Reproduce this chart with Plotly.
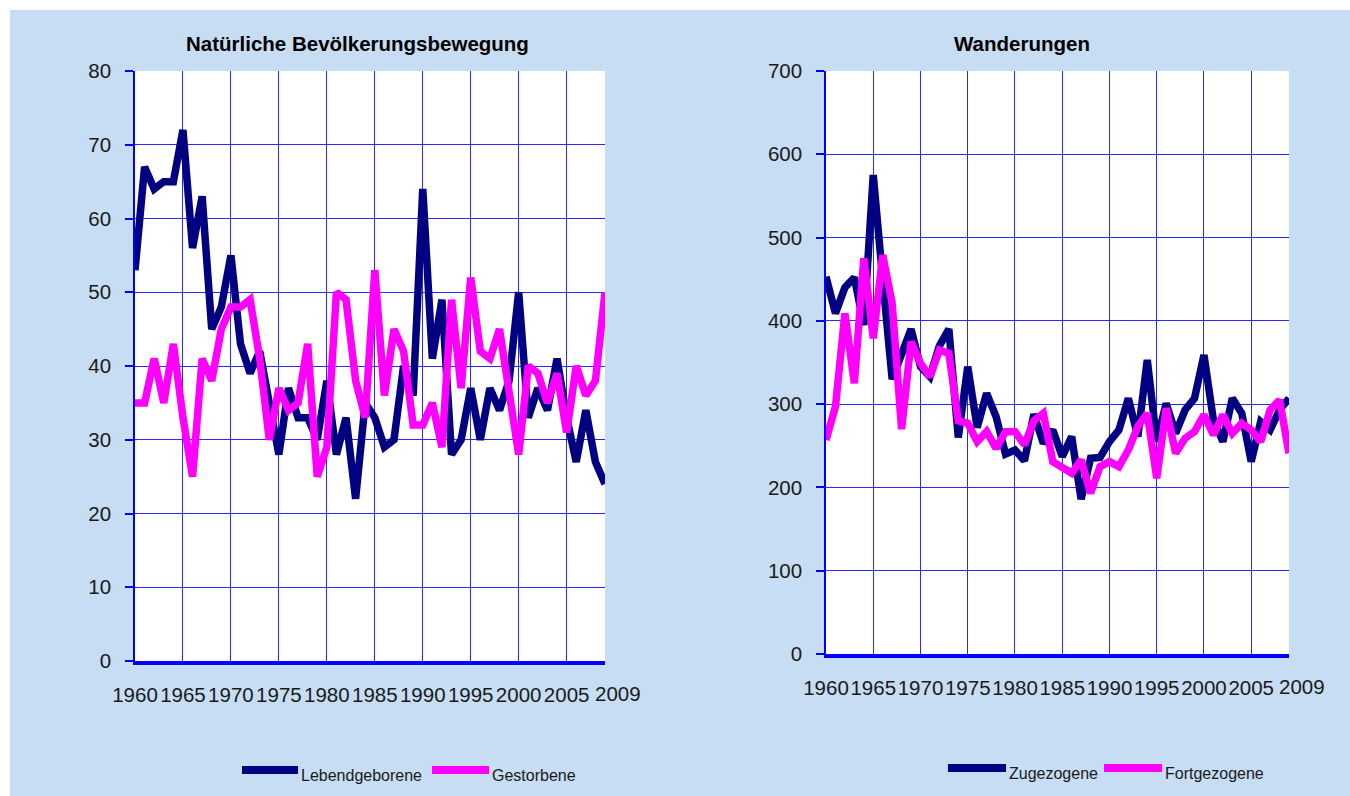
import plotly.graph_objects as go

# ---------------- data ----------------
years = list(range(1960, 2010))
tick_years = list(range(1960, 2010, 5))

lebendgeborene = [53, 67, 64, 65, 65, 72, 56, 63, 45, 48,
                  55, 43, 39, 42, 35, 28, 37, 33, 33, 30,
                  38, 28, 33, 22, 35, 33, 29, 30, 40, 36,
                  64, 41, 49, 28, 30, 37, 30, 37, 34, 38,
                  50, 33, 37, 34, 41, 33, 27, 34, 27, 24]
gestorbene = [35, 35, 41, 35, 43, 33, 25, 41, 38, 45,
              48, 48, 49, 41, 30, 37, 34, 35, 43, 25,
              29, 50, 49, 38, 33, 53, 36, 45, 42, 32,
              32, 35, 29, 49, 37, 52, 42, 41, 45, 36,
              28, 40, 39, 35, 39, 31, 40, 36, 38, 50]
zugezogene = [453, 409, 440, 452, 395, 575, 450, 330, 360, 390,
              345, 333, 370, 390, 260, 345, 272, 313, 285, 240,
              245, 232, 288, 253, 269, 237, 261, 186, 235, 236,
              255, 269, 307, 261, 353, 255, 301, 265, 293, 307,
              359, 281, 255, 307, 289, 231, 279, 269, 293, 307]
fortgezogene = [257, 297, 409, 325, 475, 379, 479, 421, 270, 375,
                349, 333, 365, 361, 280, 277, 255, 267, 247, 267,
                267, 251, 280, 289, 231, 225, 217, 233, 193, 225,
                231, 225, 245, 273, 289, 211, 295, 241, 259, 267,
                287, 263, 287, 265, 277, 269, 255, 293, 305, 241]

left_ticks = [0, 10, 20, 30, 40, 50, 60, 70, 80]
right_ticks = [0, 100, 200, 300, 400, 500, 600, 700]

titles = ["Natürliche Bevölkerungsbewegung", "Wanderungen"]
names_left = ["Lebendgeborene", "Gestorbene"]
names_right = ["Zugezogene", "Fortgezogene"]

NAVY = "#000080"
MAGENTA = "#FF00FF"
BLUE = "#0000FF"
GRID = "rgb(40,40,255)"
BG = "rgb(198,221,243)"
FONT = "Liberation Sans, Arial, sans-serif"
TXT = "#1a1a1a"
LW = 7.5

W, H = 1340, 786  # figure size; page offset 10px left/top


def px(x):
    return (x - 10) / W


def py(y):
    return 1 - (y - 10) / H


fig = go.Figure()
fig.add_trace(go.Scatter(x=years, y=lebendgeborene, mode="lines", name=names_left[0],
                         line=dict(color=NAVY, width=LW), xaxis="x", yaxis="y", showlegend=False))
fig.add_trace(go.Scatter(x=years, y=gestorbene, mode="lines", name=names_left[1],
                         line=dict(color=MAGENTA, width=LW), xaxis="x", yaxis="y", showlegend=False))
fig.add_trace(go.Scatter(x=years, y=zugezogene, mode="lines", name=names_right[0],
                         line=dict(color=NAVY, width=LW), xaxis="x2", yaxis="y2", showlegend=False))
fig.add_trace(go.Scatter(x=years, y=fortgezogene, mode="lines", name=names_right[1],
                         line=dict(color=MAGENTA, width=LW), xaxis="x2", yaxis="y2", showlegend=False))

xcommon = dict(range=[years[0], years[-1]], tickmode="array", tickvals=tick_years,
               showgrid=True, gridcolor=GRID, gridwidth=1, showline=True, linecolor=BLUE,
               linewidth=4, ticks="", zeroline=False, tickangle=0, automargin=False,
               tickfont=dict(family=FONT, size=20.5, color=TXT), ticklabelstandoff=12)


def yaxis_cfg(ticks, rng):
    return dict(range=rng, tickmode="array", tickvals=ticks, showgrid=False,
                minor=dict(tickmode="array", tickvals=ticks[1:-1], showgrid=True,
                           gridcolor=GRID, gridwidth=1, ticks=""),
                showline=True, linecolor=BLUE, linewidth=1.5, ticks="outside", ticklen=8,
                tickcolor=BLUE, tickwidth=1.5, zeroline=False, automargin=False,
                tickfont=dict(family=FONT, size=20.5, color=TXT), ticklabelstandoff=10)


fig.update_layout(
    width=W, height=H,
    margin=dict(l=0, r=0, t=0, b=0, autoexpand=False),
    paper_bgcolor=BG, plot_bgcolor="white",
    showlegend=False,
    xaxis=dict(domain=[px(135), px(605)], anchor="y", **xcommon),
    yaxis=dict(domain=[py(661), py(71)], anchor="x", **yaxis_cfg(left_ticks, [left_ticks[0], left_ticks[-1]])),
    xaxis2=dict(domain=[px(826), px(1289)], anchor="y2", **xcommon),
    yaxis2=dict(domain=[py(654), py(71)], anchor="x2", **yaxis_cfg(right_ticks, [right_ticks[0], right_ticks[-1]])),
)

annotations = []
# titles
for t, cx in zip(titles, [357, 1022]):
    annotations.append(dict(text=f"<b>{t}</b>", x=px(cx), y=py(43), xref="paper", yref="paper",
                            xanchor="center", yanchor="middle", showarrow=False,
                            font=dict(family=FONT, size=20.5, color="black")))
# last year labels (offset like the original)
for xr, yr in [("x", "y"), ("x2", "y2")]:
    annotations.append(dict(text=str(years[-1]), x=years[-1], y=0, xref=xr, yref=yr,
                            xshift=13, yshift=-32, xanchor="center", yanchor="middle",
                            showarrow=False, font=dict(family=FONT, size=20.5, color=TXT)))

shapes = []
legend_items = [
    (names_left[0], NAVY, 242, 298, 770),
    (names_left[1], MAGENTA, 432, 489, 770),
    (names_right[0], NAVY, 948, 1006, 768),
    (names_right[1], MAGENTA, 1104, 1162, 768),
]
for name, col, x0, x1, yy in legend_items:
    shapes.append(dict(type="line", xref="paper", yref="paper", x0=px(x0), x1=px(x1),
                       y0=py(yy), y1=py(yy), line=dict(color=col, width=8)))
    annotations.append(dict(text=name, x=px(x1 + 1), y=py(yy + 5), xref="paper", yref="paper",
                            xanchor="left", yanchor="middle", showarrow=False,
                            font=dict(family=FONT, size=16, color=TXT)))

fig.update_layout(annotations=annotations, shapes=shapes)

fig.write_html("out.html",
               post_script="document.body.style.margin='10px 0 0 10px';document.body.style.overflow='hidden';")
